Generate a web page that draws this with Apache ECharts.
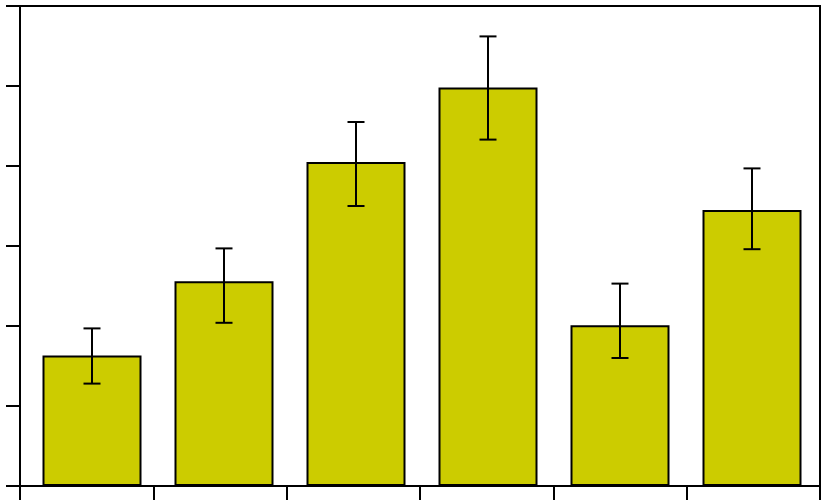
<!DOCTYPE html>
<html>
<head>
<meta charset="utf-8">
<script src="https://cdn.jsdelivr.net/npm/echarts@6/dist/echarts.min.js"></script>
<style>html,body{margin:0;padding:0;background:#fff;}#chart{width:824px;height:504px;}</style>
</head>
<body>
<div id="chart"></div>
<script>
var categories = ['A', 'B', 'C', 'D', 'E', 'F'];
var values = [1.63, 2.56, 4.05, 4.98, 2.01, 3.45];
var errHigh = [1.97, 2.97, 4.55, 5.62, 2.53, 3.97];
var errLow = [1.28, 2.04, 3.50, 4.33, 1.60, 2.96];
var yMin = 0, yMax = 6, yInterval = 1;

var errData = categories.map(function (c, i) { return [i, errLow[i], errHigh[i]]; });

var chart = echarts.init(document.getElementById('chart'), null, {renderer: 'canvas'});
chart.setOption({
  animation: false,
  backgroundColor: '#fff',
  grid: [
    {left: 20, right: 4, top: 6, bottom: 18, show: true, borderColor: '#000', borderWidth: 2, backgroundColor: 'transparent'},
    {left: 26, right: 6, top: 6, bottom: 18}
  ],
  xAxis: [
    {gridIndex: 0, type: 'category', data: categories, boundaryGap: true,
     axisLine: {lineStyle: {color: '#000', width: 2}},
     axisTick: {show: true, length: 14, interval: 0, lineStyle: {color: '#000', width: 2}},
     axisLabel: {show: false}, splitLine: {show: false}},
    {gridIndex: 1, type: 'category', data: categories, show: false}
  ],
  yAxis: [
    {gridIndex: 0, type: 'value', min: yMin, max: yMax, interval: yInterval,
     axisLine: {show: true, lineStyle: {color: '#000', width: 2}},
     axisTick: {show: true, length: 14, lineStyle: {color: '#000', width: 2}},
     axisLabel: {show: false}, splitLine: {show: false}},
    {gridIndex: 1, type: 'value', min: yMin, max: yMax, show: false}
  ],
  series: [
    {type: 'bar', xAxisIndex: 1, yAxisIndex: 1, data: values, barWidth: 99,
     itemStyle: {color: '#CCCC00', borderColor: '#000', borderWidth: 2}, z: 2},
    {type: 'custom', xAxisIndex: 1, yAxisIndex: 1, data: errData, z: 5,
     renderItem: function (params, api) {
       var x = api.value(0);
       var lo = api.coord([x, api.value(1)]);
       var hi = api.coord([x, api.value(2)]);
       var hw = 8.5;
       var st = {stroke: '#000', lineWidth: 2, fill: null};
       return {type: 'group', children: [
         {type: 'line', shape: {x1: hi[0], y1: hi[1], x2: lo[0], y2: lo[1]}, style: st},
         {type: 'line', shape: {x1: hi[0] - hw, y1: hi[1], x2: hi[0] + hw, y2: hi[1]}, style: st},
         {type: 'line', shape: {x1: lo[0] - hw, y1: lo[1], x2: lo[0] + hw, y2: lo[1]}, style: st}
       ]};
     }}
  ]
});
</script>
</body>
</html>
